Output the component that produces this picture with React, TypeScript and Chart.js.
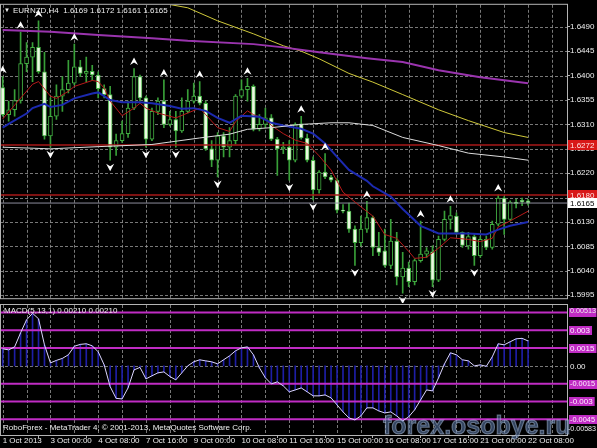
import React, { useEffect, useRef } from "react";
import { Chart, registerables } from "chart.js";

Chart.register(...registerables);

const FONT = '"Liberation Sans", Arial, sans-serif';

// ---- time axis -------------------------------------------------------------
const timeLabels = ["1 Oct 2013", "3 Oct 00:00", "4 Oct 08:00", "7 Oct 16:00", "9 Oct 00:00", "10 Oct 08:00", "11 Oct 16:00", "15 Oct 00:00", "16 Oct 08:00", "17 Oct 16:00", "21 Oct 00:00", "22 Oct 08:00"];
const timeLabelBars = [0, 8, 16, 24, 32, 40, 48, 56, 64, 72, 80, 88];
const gridBars = [0, 4, 8, 12, 16, 20, 24, 28, 32, 36, 40, 44, 48, 52, 56, 60, 64, 68, 72, 76, 80, 84, 88, 92];

// ---- price axis ------------------------------------------------------------
const priceTicks = [1.5995, 1.604, 1.6085, 1.613, 1.6175, 1.622, 1.6265, 1.631, 1.6355, 1.64, 1.6445, 1.649];

// ---- EURNZD H4 candles, 1 Oct 16:00 .. 22 Oct 08:00 --------------------------
const opens = [
  1.6378, 1.6328, 1.6337, 1.6354, 1.6422, 1.6434, 1.6452, 1.6407, 1.6289, 1.6325,
  1.6362, 1.6374, 1.6386, 1.6416, 1.6404, 1.6408, 1.6401, 1.6376, 1.6365, 1.6268,
  1.628, 1.6293, 1.634, 1.6398, 1.6359, 1.6283, 1.6334, 1.6353, 1.631, 1.6319,
  1.6298, 1.6334, 1.6353, 1.6362, 1.6349, 1.6265, 1.6244, 1.6289, 1.6268, 1.628,
  1.6362, 1.6374, 1.638, 1.6301, 1.631, 1.6322, 1.6283, 1.6265, 1.6268, 1.6244,
  1.6311, 1.6285, 1.6244, 1.6189, 1.6222, 1.6213, 1.6207, 1.6152, 1.615, 1.6117,
  1.6092, 1.6117, 1.6138, 1.6083, 1.6077, 1.605, 1.6095, 1.6029, 1.6045, 1.602,
  1.6059, 1.6071, 1.6075, 1.6023, 1.6098, 1.6135, 1.6141, 1.6111, 1.6086, 1.6103,
  1.6068, 1.6098, 1.6083, 1.6126, 1.6174, 1.6135, 1.6167, 1.617, 1.6169,
];
const highs = [
  1.6398, 1.6353, 1.6374, 1.648, 1.6461, 1.6461, 1.6501, 1.6443, 1.6359, 1.6383,
  1.6398, 1.6428, 1.6458, 1.6428, 1.6434, 1.6419, 1.6407, 1.6383, 1.638, 1.6292,
  1.6316, 1.6353, 1.6413, 1.6401, 1.6362, 1.634, 1.6359, 1.6392, 1.6334, 1.6334,
  1.6359, 1.6374, 1.6386, 1.6389, 1.6353, 1.628, 1.6295, 1.6295, 1.6304, 1.6365,
  1.6392, 1.6395, 1.6383, 1.6328, 1.634, 1.6328, 1.6286, 1.6277, 1.628, 1.6313,
  1.6325, 1.6292, 1.625, 1.6225, 1.6256, 1.6216, 1.621, 1.6162, 1.6165, 1.6123,
  1.6141, 1.6168, 1.6141, 1.6111, 1.6117, 1.6135, 1.6111, 1.6074, 1.6056, 1.6062,
  1.6132, 1.6083, 1.6086, 1.6104, 1.615, 1.6159, 1.6147, 1.6112, 1.6111, 1.6107,
  1.6103, 1.6104, 1.6132, 1.618, 1.6177, 1.6169, 1.6172, 1.6174, 1.6172,
];
const lows = [
  1.6325, 1.6316, 1.6325, 1.6349, 1.6407, 1.6389, 1.6404, 1.6283, 1.6268, 1.6319,
  1.6334, 1.6368, 1.6383, 1.6398, 1.6389, 1.6392, 1.6359, 1.6359, 1.6244, 1.6253,
  1.6277, 1.6286, 1.6337, 1.6353, 1.6268, 1.628, 1.6328, 1.6304, 1.6307, 1.6268,
  1.6295, 1.6331, 1.6349, 1.6346, 1.6262, 1.6232, 1.6213, 1.625, 1.625, 1.6274,
  1.6359, 1.6353, 1.6298, 1.6298, 1.6304, 1.628, 1.6216, 1.6256, 1.6207, 1.6241,
  1.6283, 1.6241, 1.6171, 1.6183, 1.621, 1.6204, 1.6147, 1.6147, 1.6111, 1.605,
  1.6086, 1.6111, 1.6068, 1.6068, 1.6047, 1.6044, 1.6014, 1.5999, 1.6011, 1.6014,
  1.6056, 1.6065, 1.6011, 1.602, 1.6095, 1.6117, 1.6107, 1.6083, 1.608, 1.605,
  1.6065, 1.6079, 1.608, 1.6123, 1.6107, 1.6132, 1.6156, 1.616, 1.6161,
];
const closes = [
  1.6328, 1.6337, 1.6354, 1.6422, 1.6434, 1.6452, 1.6407, 1.6289, 1.6325, 1.6362,
  1.6374, 1.6386, 1.6416, 1.6404, 1.6408, 1.6401, 1.6376, 1.6365, 1.6268, 1.628,
  1.6293, 1.634, 1.6398, 1.6359, 1.6283, 1.6334, 1.6353, 1.631, 1.6319, 1.6298,
  1.6334, 1.6353, 1.6362, 1.6349, 1.6265, 1.6244, 1.6289, 1.6268, 1.628, 1.6362,
  1.6374, 1.638, 1.6301, 1.631, 1.6322, 1.6283, 1.6265, 1.6268, 1.6244, 1.631,
  1.6285, 1.6244, 1.6189, 1.6222, 1.6213, 1.6207, 1.6152, 1.615, 1.6117, 1.6092,
  1.6117, 1.6138, 1.6083, 1.6074, 1.605, 1.6095, 1.6029, 1.6045, 1.602, 1.6059,
  1.6071, 1.6077, 1.6023, 1.6098, 1.6135, 1.6142, 1.6111, 1.6087, 1.6103, 1.6068,
  1.6098, 1.6083, 1.6126, 1.6174, 1.6135, 1.6167, 1.6164, 1.6167, 1.6165,
];

// Bill Williams fractals (bar indexes)
const fractalUpBars = [0, 3, 6, 12, 22, 27, 33, 41, 50, 54, 61, 70, 75, 83];
const fractalDownBars = [8, 18, 24, 29, 36, 48, 52, 59, 67, 72, 79];

// ---- moving averages, [bar, price] ----------------------------------------
const maRed = [
  [0, 1.632], [5, 1.6384], [6, 1.6389], [8, 1.6362], [9, 1.6358], [11, 1.6371], [12, 1.638], [15, 1.6391],
  [16, 1.6389], [17, 1.6377], [18, 1.6353], [20, 1.6326], [22, 1.634], [23, 1.6349], [24, 1.634], [26, 1.6331],
  [29, 1.6322], [31, 1.6331], [33, 1.634], [34, 1.6328], [36, 1.6304], [38, 1.6297], [39, 1.6315], [41, 1.6335],
  [42, 1.6328], [44, 1.632], [45, 1.6308], [47, 1.6293], [49, 1.6281], [51, 1.6275], [53, 1.6252], [55, 1.6226],
  [57, 1.6185], [60, 1.6158], [62, 1.6141], [64, 1.6107], [66, 1.61], [68, 1.6076], [69, 1.6063], [71, 1.6065],
  [73, 1.6082], [75, 1.6101], [78, 1.6098], [80, 1.6094], [82, 1.61], [83, 1.6121], [85, 1.6132], [88, 1.615],
];
const maBlue = [
  [0, 1.6304], [1, 1.6311], [4, 1.633], [5, 1.634], [7, 1.6348], [8, 1.6342], [10, 1.6346], [12, 1.6358],
  [15, 1.6367], [16, 1.6369], [17, 1.6362], [18, 1.6355], [20, 1.6351], [23, 1.6351], [25, 1.6349], [28, 1.6344],
  [30, 1.6339], [32, 1.634], [34, 1.6335], [36, 1.6322], [38, 1.6313], [40, 1.6326], [43, 1.6324], [45, 1.6313],
  [47, 1.6308], [50, 1.6302], [52, 1.6293], [54, 1.6275], [56, 1.625], [58, 1.6226], [61, 1.6206], [62, 1.6196],
  [65, 1.6177], [67, 1.6154], [70, 1.6123], [73, 1.6109], [75, 1.6109], [78, 1.6109], [81, 1.6107], [83, 1.6116],
  [85, 1.6123], [88, 1.613],
];
const maWhite = [
  [0, 1.6268], [8, 1.6265], [16, 1.6269], [25, 1.6273], [29, 1.6279], [33, 1.6285], [38, 1.6292], [41, 1.6301],
  [45, 1.6304], [50, 1.631], [55, 1.6313], [58, 1.6313], [62, 1.6308], [67, 1.6286], [73, 1.6271], [78, 1.6257],
  [84, 1.625], [88, 1.6244],
];
const maYellow = [
  [28, 1.6531], [31, 1.6525], [36, 1.6501], [42, 1.6477], [47, 1.6455], [50, 1.6445], [53, 1.6431], [58, 1.6404],
  [62, 1.6388], [67, 1.6365], [73, 1.6337], [78, 1.6317], [84, 1.6295], [88, 1.6286],
];
const maMagenta = [
  [0, 1.6484], [8, 1.6481], [16, 1.6475], [25, 1.6469], [31, 1.6464], [42, 1.6458], [47, 1.6452], [53, 1.6443],
  [61, 1.6432], [67, 1.6425], [73, 1.641], [80, 1.6397], [88, 1.6386],
];

// horizontal levels drawn on the price panel
const resistanceLevels = [1.6272, 1.618];
const bidPrice = 1.6165;

// ---- MACD(5,13,1), one value per bar --------------------------------------
const macdValues = [
  0.00143, 0.00135, 0.0016, 0.00279, 0.00388, 0.00443, 0.00397, 0.00177, 0.00025, 0.00046,
  0.00063, 0.00093, 0.00165, 0.00181, 0.00186, 0.00169, 0.00118, 0.00008, -0.00175, -0.00274,
  -0.00279, -0.00186, -0.00034, -0.00013, -0.0011, -0.00084, -0.00059, -0.00051, -0.0009, -0.00118,
  -0.00059, 0.0, 0.00034, 0.00051, 0.00042, 0.00034, 0.00017, 0.00051, 0.00084, 0.00127,
  0.00152, 0.0016, 0.00093, -0.00017, -0.00101, -0.00152, -0.00135, -0.00169, -0.00219, -0.00203,
  -0.00186, -0.00219, -0.00253, -0.00253, -0.00245, -0.0027, -0.00329, -0.00388, -0.00439, -0.00456,
  -0.00422, -0.00354, -0.00354, -0.0038, -0.00397, -0.00388, -0.00422, -0.00464, -0.0043, -0.00371,
  -0.00287, -0.00203, -0.00211, -0.00101, 0.00017, 0.0011, 0.00093, 0.00051, 0.00042, 0.0,
  0.00008, -0.00004, 0.00076, 0.00186, 0.00177, 0.00203, 0.00228, 0.00232, 0.0021,
];
const macdLevels = [0.0045, 0.003, 0.0015, -0.0015, -0.003, -0.0045];
const macdLevelText = ["0.0045", "0.003", "0.0015", "-0.0015", "-0.003", "-0.0045"];

// ---- scale ranges ------------------------------------------------------------
const X_MIN = -0.45;
const X_MAX = 94.52;
const P_MIN = 1.59896;
const P_MAX = 1.65305;
const M_MIN = -0.00583;
const M_MAX = 0.00513;

// ---- colours ---------------------------------------------------------------
const GRID = "rgba(150,150,150,0.8)";
const FRAME = "#b4b4b4";
const TEXT = "#eeeeee";
const BEAR_FILL = "#eaf9e0";
const BULL_FILL = "#000000";
const CANDLE_EDGE = "#42ae42";
const WICK = "#389f38";
const LEVEL_MAGENTA = "#c02cc4";

const pts = (arr: number[][]) => arr.map(([x, y]) => ({ x, y }));
const hline = (v: number) => [{ x: X_MIN, y: v }, { x: X_MAX, y: v }];

function drawArrow(ctx: CanvasRenderingContext2D, cx: number, cy: number, up: boolean) {
  const s = up ? 1 : -1;
  ctx.beginPath();
  ctx.moveTo(cx, cy - 4 * s);
  ctx.lineTo(cx + 4, cy + 3.5 * s);
  ctx.lineTo(cx, cy + 1 * s);
  ctx.lineTo(cx - 4, cy + 3.5 * s);
  ctx.closePath();
  ctx.fill();
}

function drawFrame(ctx: CanvasRenderingContext2D, ca: any) {
  ctx.save();
  ctx.strokeStyle = FRAME;
  ctx.lineWidth = 1;
  ctx.setLineDash([]);
  ctx.strokeRect(ca.left + 0.5, ca.top - 0.5, ca.right - ca.left, ca.bottom - ca.top + 1);
  ctx.restore();
}

function priceBox(ctx: CanvasRenderingContext2D, text: string, yc: number, bg: string, fg: string) {
  const x0 = 568;
  ctx.fillStyle = bg;
  ctx.fillRect(x0, Math.round(yc) - 5, 597 - x0, 10);
  ctx.fillStyle = fg;
  ctx.textAlign = "left";
  ctx.textBaseline = "middle";
  ctx.fillText(text, x0 + 2, yc + 0.5, 26);
}

const mainPanel = {
  id: "mainPanel",
  beforeDatasetsDraw(chart: any) {
    const { ctx, chartArea: ca, scales } = chart;
    const x = scales.x;
    const y = scales.y;
    ctx.save();
    ctx.strokeStyle = GRID;
    ctx.lineWidth = 1;
    ctx.setLineDash([3, 2]);
    ctx.beginPath();
    for (const b of gridBars) {
      const px = Math.round(x.getPixelForValue(b)) + 0.5;
      if (px < ca.left || px > ca.right) continue;
      ctx.moveTo(px, ca.top);
      ctx.lineTo(px, ca.bottom);
    }
    for (const v of priceTicks) {
      const py = Math.round(y.getPixelForValue(v)) + 0.5;
      ctx.moveTo(ca.left, py);
      ctx.lineTo(ca.right, py);
    }
    ctx.stroke();
    ctx.restore();
  },
  afterDatasetsDraw(chart: any) {
    const { ctx, scales } = chart;
    const x = scales.x;
    const y = scales.y;
    ctx.save();
    ctx.fillStyle = "#ffffff";
    for (const b of fractalUpBars) drawArrow(ctx, x.getPixelForValue(b), y.getPixelForValue(highs[b]) - 7, true);
    for (const b of fractalDownBars) drawArrow(ctx, x.getPixelForValue(b), y.getPixelForValue(lows[b]) + 7, false);
    ctx.restore();
  },
  afterDraw(chart: any) {
    const { ctx, chartArea: ca, scales } = chart;
    const y = scales.y;
    drawFrame(ctx, ca);
    ctx.save();
    ctx.font = `8px ${FONT}`;
    // right-hand price markers
    priceBox(ctx, resistanceLevels[0].toFixed(4), y.getPixelForValue(resistanceLevels[0]), "#d81818", "#ffe4e4");
    priceBox(ctx, resistanceLevels[1].toFixed(4), y.getPixelForValue(resistanceLevels[1]), "#d81818", "#ffe4e4");
    priceBox(ctx, bidPrice.toFixed(4), y.getPixelForValue(bidPrice), "#ffffff", "#000000");
    // symbol header
    const last = opens.length - 1;
    ctx.fillStyle = TEXT;
    ctx.textAlign = "left";
    ctx.textBaseline = "middle";
    ctx.font = `6px ${FONT}`;
    ctx.fillText("▼", ca.left + 4, ca.top + 6);
    ctx.font = `8px ${FONT}`;
    ctx.fillText(
      `EURNZD,H4  ${opens[last].toFixed(4)} ${highs[last].toFixed(4)} ${lows[last].toFixed(4)} ${closes[last].toFixed(4)}`,
      ca.left + 13,
      ca.top + 6
    );
    ctx.restore();
  },
};

const macdPanel = {
  id: "macdPanel",
  beforeDatasetsDraw(chart: any) {
    const { ctx, chartArea: ca, scales } = chart;
    const x = scales.x;
    const y = scales.y;
    ctx.save();
    ctx.strokeStyle = GRID;
    ctx.lineWidth = 1;
    ctx.setLineDash([3, 2]);
    ctx.beginPath();
    for (const b of gridBars) {
      const px = Math.round(x.getPixelForValue(b)) + 0.5;
      if (px < ca.left || px > ca.right) continue;
      ctx.moveTo(px, ca.top);
      ctx.lineTo(px, ca.bottom);
    }
    const zy = Math.round(y.getPixelForValue(0)) + 0.5;
    ctx.moveTo(ca.left, zy);
    ctx.lineTo(ca.right, zy);
    ctx.stroke();
    ctx.restore();
  },
  afterDraw(chart: any) {
    const { ctx, chartArea: ca, scales } = chart;
    const y = scales.y;
    drawFrame(ctx, ca);
    ctx.save();
    ctx.font = `8px ${FONT}`;
    ctx.textAlign = "left";
    ctx.textBaseline = "middle";
    // level tags
    macdLevels.forEach((lv, k) => {
      const yc = y.getPixelForValue(lv);
      const w = Math.min(ctx.measureText(macdLevelText[k]).width, 25);
      ctx.fillStyle = LEVEL_MAGENTA;
      ctx.fillRect(569, Math.round(yc) - 4, w + 3, 9);
      if (k > 0) {
        ctx.fillStyle = "#fff0ff";
        ctx.fillText(macdLevelText[k], 570, yc + 0.5, 25);
      }
    });
    ctx.fillStyle = TEXT;
    ctx.fillText(M_MAX.toFixed(5), 570, ca.top + 6, 26);
    ctx.fillText("0.00", 570, y.getPixelForValue(0) + 0.5);
    ctx.fillText(M_MIN.toFixed(5), 568, ca.bottom - 6, 28);
    // indicator caption and terminal line
    const last = macdValues.length - 1;
    ctx.fillText(`MACD(5,13,1) ${macdValues[last].toFixed(5)} ${macdValues[last].toFixed(5)}`, ca.left + 4, ca.top + 6);
    ctx.fillText("RoboForex - MetaTrader 4, © 2001-2013, MetaQuotes Software Corp.", ca.left + 3, ca.bottom - 7);
    // site watermark
    ctx.font = `bold 25px ${FONT}`;
    ctx.textBaseline = "alphabetic";
    ctx.fillStyle = "rgba(95,125,175,0.55)";
    ctx.fillText("forex.osobye.ru", 383, 131);
    ctx.strokeStyle = "rgba(190,210,240,0.45)";
    ctx.lineWidth = 1;
    ctx.strokeText("forex.osobye.ru", 383, 131);
    ctx.restore();
  },
};

function baseOptions(): any {
  return {
    animation: false,
    responsive: false,
    devicePixelRatio: 1,
    events: [],
    plugins: { legend: { display: false }, tooltip: { enabled: false } },
  };
}

function topConfig(): any {
  const wick = lows.map((l, i) => ({ x: i, y: [l, highs[i]] }));
  const body = opens.map((o, i) => ({ x: i, y: [o, closes[i]] }));
  const bodyFill = opens.map((o, i) => (closes[i] < o ? BEAR_FILL : BULL_FILL));
  const line = (data: any, color: string, width: number, order: number) => ({
    type: "line",
    data,
    borderColor: color,
    borderWidth: width,
    pointRadius: 0,
    tension: 0,
    order,
  });
  return {
    type: "bar",
    data: {
      datasets: [
        line(pts(maMagenta), "#9a34ae", 2, 1),
        line(pts(maYellow), "#cfc83a", 1, 1),
        line(pts(maWhite), "#dcdcdc", 1, 1),
        line(pts(maBlue), "#1c2ab0", 2, 1),
        line(pts(maRed), "#b81a1a", 1, 1),
        line(hline(resistanceLevels[0]), "#a81818", 1.5, 3),
        line(hline(resistanceLevels[1]), "#a81818", 1.5, 3),
        line(hline(bidPrice), "#8c8c9c", 1, 3),
        {
          type: "bar",
          data: body,
          backgroundColor: bodyFill,
          borderColor: CANDLE_EDGE,
          borderWidth: 1,
          borderSkipped: false,
          barThickness: 4,
          grouped: false,
          order: 8,
        },
        { type: "bar", data: wick, backgroundColor: WICK, barThickness: 1, grouped: false, order: 9 },
      ],
    },
    options: {
      ...baseOptions(),
      layout: { padding: { top: 2, left: 0, right: 0, bottom: 0 } },
      scales: {
        x: {
          type: "linear",
          min: X_MIN,
          max: X_MAX,
          offset: false,
          ticks: { display: false },
          grid: { display: false },
          border: { display: false },
          afterFit: (s: any) => {
            s.height = 2;
          },
        },
        y: {
          position: "right",
          min: P_MIN,
          max: P_MAX,
          beginAtZero: false,
          afterBuildTicks: (s: any) => {
            s.ticks = priceTicks.map((v) => ({ value: v }));
          },
          ticks: {
            color: TEXT,
            font: { family: FONT, size: 8 },
            padding: 0,
            autoSkip: false,
            callback: (v: any) => Number(v).toFixed(4),
          },
          grid: { display: true, drawOnChartArea: false, drawTicks: true, tickLength: 3, tickColor: FRAME },
          border: { display: false },
          afterFit: (s: any) => {
            s.width = 30;
          },
        },
      },
    },
    plugins: [mainPanel],
  };
}

function bottomConfig(): any {
  return {
    type: "bar",
    data: {
      datasets: [
        {
          type: "line",
          data: macdValues.map((v, i) => ({ x: i, y: v })),
          borderColor: "#dcd6ff",
          borderWidth: 1,
          pointRadius: 0,
          tension: 0,
          order: 1,
        },
        ...macdLevels.map((lv) => ({
          type: "line",
          data: hline(lv),
          borderColor: LEVEL_MAGENTA,
          borderWidth: 2,
          pointRadius: 0,
          order: 2,
        })),
        {
          type: "bar",
          data: macdValues.map((v, i) => ({ x: i, y: v })),
          backgroundColor: "#1e1ea6",
          barThickness: 1,
          grouped: false,
          order: 5,
        },
      ],
    },
    options: {
      ...baseOptions(),
      layout: { padding: { top: 2, left: 0, right: 0, bottom: 0 } },
      scales: {
        x: {
          type: "linear",
          min: X_MIN,
          max: X_MAX,
          offset: false,
          afterBuildTicks: (s: any) => {
            s.ticks = gridBars.map((v) => ({ value: v }));
          },
          ticks: {
            color: TEXT,
            font: { family: FONT, size: 8 },
            align: "start",
            autoSkip: false,
            maxRotation: 0,
            minRotation: 0,
            padding: -2,
            callback: (v: any) => {
              const k = timeLabelBars.indexOf(Number(v));
              return k >= 0 ? timeLabels[k] : "";
            },
          },
          grid: {
            display: true,
            drawOnChartArea: false,
            drawTicks: true,
            tickLength: 3,
            tickColor: (c: any) => (c.tick && timeLabelBars.includes(c.tick.value) ? FRAME : "rgba(0,0,0,0)"),
          },
          border: { display: false },
          afterFit: (s: any) => {
            s.height = 13;
          },
        },
        y: {
          position: "right",
          min: M_MIN,
          max: M_MAX,
          beginAtZero: false,
          ticks: { display: false },
          grid: { display: false },
          border: { display: false },
          afterFit: (s: any) => {
            s.width = 30;
          },
        },
      },
    },
    plugins: [macdPanel],
  };
}

export default function App() {
  const topRef = useRef<HTMLCanvasElement>(null);
  const botRef = useRef<HTMLCanvasElement>(null);

  useEffect(() => {
    document.body.style.margin = "0";
    document.body.style.background = "#000";
    const top = new Chart(topRef.current as HTMLCanvasElement, topConfig());
    const bot = new Chart(botRef.current as HTMLCanvasElement, bottomConfig());
    return () => {
      top.destroy();
      bot.destroy();
    };
  }, []);

  return (
    <div style={{ width: 597, height: 448, background: "#000", overflow: "hidden" }}>
      <canvas ref={topRef} width={597} height={303} style={{ display: "block" }} />
      <canvas ref={botRef} width={597} height={145} style={{ display: "block" }} />
    </div>
  );
}
